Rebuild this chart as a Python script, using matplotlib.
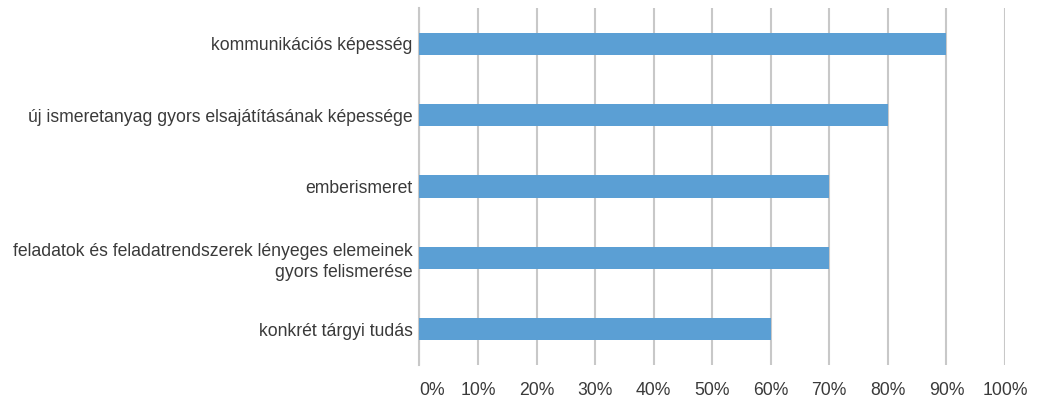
import matplotlib.pyplot as plt
from matplotlib.ticker import FuncFormatter

plt.rcParams['font.family'] = ['Liberation Sans', 'DejaVu Sans']

# Data, top to bottom as in the chart
categories = [
    'kommunikációs képesség',
    'új ismeretanyag gyors elsajátításának képessége',
    'emberismeret',
    'feladatok és feladatrendszerek lényeges elemeinek\ngyors felismerése',
    'konkrét tárgyi tudás',
]
values = [0.90, 0.80, 0.70, 0.70, 0.60]
xticks = [i / 10 for i in range(11)]

fig = plt.figure(figsize=(10.37, 4.01), dpi=100)
ax = fig.add_axes([0.4045, 0.0898, 0.5646, 0.8902])

y = list(range(len(categories)))[::-1]
ax.barh(y, values, height=0.31, color='#5B9FD4', zorder=3)

ax.set_xlim(0, 1)
ax.set_ylim(-0.5, len(categories) - 0.5)
ax.set_xticks(xticks)
ax.xaxis.set_major_formatter(FuncFormatter(lambda v, p: f'{v * 100:.0f}%'))
ax.set_yticks(y)
ax.set_yticklabels(categories, ha='right', multialignment='right',
                   linespacing=1.3)

ax.grid(axis='x', color='#C8C8C8', linewidth=1.5, zorder=0)
for s in ['top', 'right', 'bottom']:
    ax.spines[s].set_visible(False)
ax.spines['left'].set_color('#C8C8C8')
ax.spines['left'].set_linewidth(1.5)

ax.tick_params(axis='both', length=0, labelsize=12.7, colors='#3A3A3A')
ax.tick_params(axis='x', pad=12)
ax.tick_params(axis='y', pad=5)

# first x label starts at the axis, like the original
ax.get_xticklabels()[0].set_horizontalalignment('left')

fig.savefig('out.png', dpi=100)
plt.close(fig)
